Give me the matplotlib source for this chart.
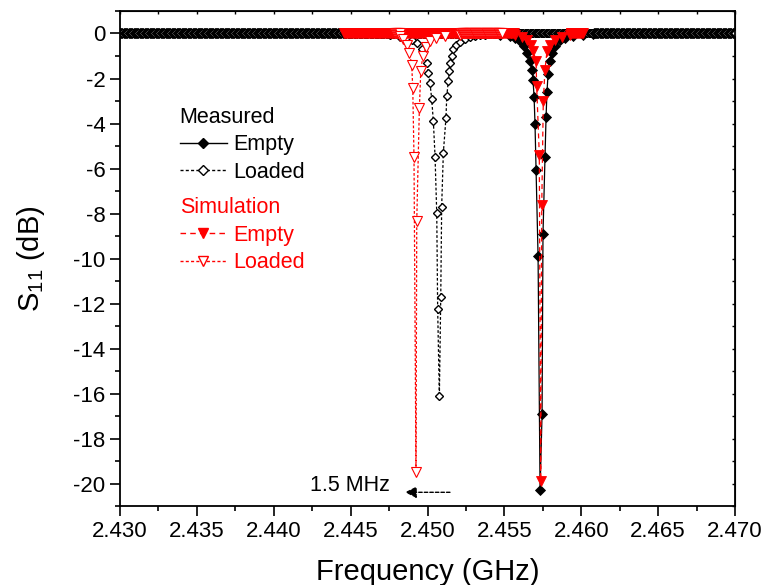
import numpy as np
import matplotlib
matplotlib.use('Agg')
import matplotlib.pyplot as plt
from matplotlib.lines import Line2D
from matplotlib.ticker import MultipleLocator, FormatStrFormatter

plt.rcParams['font.family'] = ['Liberation Sans', 'DejaVu Sans']
plt.rcParams['mathtext.fontset'] = 'custom'
plt.rcParams['mathtext.rm'] = 'Liberation Sans'
plt.rcParams['mathtext.it'] = 'Liberation Sans:italic'
plt.rcParams['mathtext.default'] = 'regular'
plt.rcParams['axes.unicode_minus'] = False

baseline_db = 0.0

# sweep grids (GHz)
meas_sweep = np.linspace(2.430, 2.470, 501)
sim_empty_sweep = np.arange(2.4446, 2.46012, 0.00006)
sim_loaded_sweep = np.arange(2.4479, 2.45492, 0.00006)

# Measured, empty cavity (readings around the dip)
meas_empty_f = [2.45472, 2.45537, 2.45569, 2.45602, 2.45628, 2.45647, 2.45667, 2.45680,
                2.45686, 2.45693, 2.45699, 2.45706, 2.45719, 2.45732, 2.45745, 2.45751,
                2.45764, 2.45771, 2.45777, 2.45784, 2.45797, 2.45810, 2.45829, 2.45862,
                2.45894, 2.45946, 2.46011, 2.46076]
meas_empty_db = [-0.05, -0.12, -0.2, -0.35, -0.55, -0.86, -1.2, -1.6,
                 -2.05, -2.8, -4.0, -6.06, -9.9, -20.3, -16.9, -8.9,
                 -5.5, -3.7, -2.6, -1.8, -1.2, -0.85, -0.55, -0.29,
                 -0.2, -0.12, -0.07, -0.04]

# Measured, loaded cavity
meas_loaded_f = [2.44691, 2.44756, 2.44821, 2.44867, 2.44899, 2.44930, 2.44962, 2.44995,
                 2.45005, 2.45016, 2.45027, 2.45038, 2.45049, 2.45060, 2.45066, 2.45077,
                 2.45086, 2.45092, 2.45103, 2.45120, 2.45125, 2.45135, 2.45142, 2.45146,
                 2.45157, 2.45168, 2.45185, 2.45211, 2.45244, 2.45276, 2.45309, 2.45341,
                 2.45374, 2.45439]
meas_loaded_db = [-0.04, -0.08, -0.14, -0.22, -0.30, -0.41, -0.71, -1.31,
                  -1.75, -2.20, -2.90, -3.91, -5.47, -7.99, -12.26, -16.12,
                  -11.73, -7.69, -5.29, -3.75, -2.79, -2.12, -1.68, -1.31,
                  -1.01, -0.71, -0.50, -0.40, -0.24, -0.16, -0.11, -0.08,
                  -0.05, -0.03]

# Simulation, empty cavity
sim_empty_f = [2.45569, 2.45615, 2.45647, 2.45673, 2.45688, 2.45706, 2.45710, 2.45727,
               2.45736, 2.45743, 2.45753, 2.45764, 2.45777, 2.45797, 2.45829, 2.45875,
               2.45927]
sim_empty_db = [-0.05, -0.15, -0.30, -0.50, -0.79, -1.23, -2.35, -5.39,
                -19.87, -7.62, -3.02, -1.60, -0.79, -0.50, -0.30, -0.15,
                -0.07]

# Simulation, loaded cavity
sim_loaded_f = [2.44821, 2.44841, 2.44865, 2.44882, 2.44897, 2.44904, 2.44912, 2.44925,
                2.44930, 2.44947, 2.44956, 2.44969, 2.44990, 2.45016, 2.45055, 2.45114,
                2.45211]
sim_loaded_db = [-0.12, -0.25, -0.49, -0.86, -1.38, -2.42, -5.47, -19.50,
                 -8.32, -3.31, -1.68, -1.01, -0.60, -0.35, -0.20, -0.10,
                 -0.05]

# frequency shift annotation
shift_label = '1.5 MHz'
shift_from = (2.45146, -20.39)
shift_to = (2.44854, -20.39)


def full_curve(sweep, dip_f, dip_db):
    dip_f = np.asarray(dip_f)
    dip_db = np.asarray(dip_db)
    keep = (sweep < dip_f.min()) | (sweep > dip_f.max())
    f = np.concatenate([sweep[keep], dip_f])
    db = np.concatenate([np.full(keep.sum(), baseline_db), dip_db])
    order = np.argsort(f)
    return f[order], db[order]


fig = plt.figure(figsize=(7.62, 5.85), dpi=100)
ax = fig.add_axes([0.1575, 0.135, 0.8071, 0.8462])

f, db = full_curve(meas_sweep, meas_empty_f, meas_empty_db)
ax.plot(f, db, color='black', lw=0.9, ls='-', marker='D', ms=4.7,
        mfc='black', mec='black', mew=0.6)
f, db = full_curve(meas_sweep, meas_loaded_f, meas_loaded_db)
ax.plot(f, db, color='black', lw=0.9, ls=(0, (2.2, 1.6)), marker='D', ms=4.5,
        mfc='white', mec='black', mew=1.0)
f, db = full_curve(sim_empty_sweep, sim_empty_f, sim_empty_db)
ax.plot(f, db, color='red', lw=0.9, ls=(0, (4, 3)), marker='v', ms=6.5,
        mfc='red', mec='red', mew=0.6)
f, db = full_curve(sim_loaded_sweep, sim_loaded_f, sim_loaded_db)
ax.plot(f, db, color='red', lw=0.9, ls=(0, (2.2, 1.6)), marker='v', ms=6.5,
        mfc='white', mec='red', mew=0.8)

# shift arrow
ax.annotate('', xy=shift_to, xytext=shift_from,
            arrowprops=dict(arrowstyle='-|>', ls=(0, (2.5, 1.5)), lw=1,
                            color='black', mutation_scale=17, shrinkA=0, shrinkB=0))
ax.text(2.44756, -20.1, shift_label, ha='right', va='center', fontsize=15.5)

ax.set_xlim(2.430, 2.470)
ax.set_ylim(-21, 1)
ax.xaxis.set_major_locator(MultipleLocator(0.005))
ax.xaxis.set_minor_locator(MultipleLocator(0.0025))
ax.xaxis.set_major_formatter(FormatStrFormatter('%.3f'))
ax.yaxis.set_major_locator(MultipleLocator(2))
ax.yaxis.set_minor_locator(MultipleLocator(1))
ax.tick_params(which='major', direction='out', length=7, width=1.2, labelsize=16)
ax.tick_params(which='minor', direction='out', length=3.5, width=1.2)
for s in ax.spines.values():
    s.set_linewidth(1.3)

top = ax.secondary_xaxis('top')
top.xaxis.set_major_locator(MultipleLocator(0.005))
top.xaxis.set_minor_locator(MultipleLocator(0.0025))
top.tick_params(which='both', direction='in', length=2.5, width=1.0, labeltop=False)
right = ax.secondary_yaxis('right')
right.yaxis.set_major_locator(MultipleLocator(2))
right.yaxis.set_minor_locator(MultipleLocator(1))
right.tick_params(which='both', direction='in', length=2.5, width=1.0, labelright=False)

ax.set_xlabel('Frequency (GHz)', fontsize=21, labelpad=12)
ax.set_ylabel('S$_{11}$ (dB)', fontsize=21, labelpad=19)

# legends
meas_handles = [
    Line2D([], [], color='black', lw=1, ls='-', marker='D', ms=5, mfc='black', mec='black'),
    Line2D([], [], color='black', lw=1, ls=(0, (2.2, 1.6)), marker='D', ms=5, mfc='white', mec='black'),
]
sim_handles = [
    Line2D([], [], color='red', lw=1, ls=(0, (4, 3)), marker='v', ms=7, mfc='red', mec='red'),
    Line2D([], [], color='red', lw=1, ls=(0, (2.2, 1.6)), marker='v', ms=7, mfc='white', mec='red'),
]
leg_kw = dict(loc='upper left', frameon=False, fontsize=15.5, title_fontsize=15.5,
              alignment='left', handlelength=2.2, handletextpad=0.3, labelspacing=0.3,
              borderpad=0, borderaxespad=0)
leg1 = ax.legend(meas_handles, ['Empty', 'Loaded'], title='Measured',
                 bbox_to_anchor=(0.097, 0.807), **leg_kw)
leg1._legend_box.sep = 5
ax.add_artist(leg1)
leg2 = ax.legend(sim_handles, ['Empty', 'Loaded'], title='Simulation',
                 bbox_to_anchor=(0.097, 0.625), labelcolor='red', **leg_kw)
leg2._legend_box.sep = 5
leg2._legend_handle_box.sep = 0
leg2.get_title().set_color('red')

plt.savefig('out.png', dpi=100)
